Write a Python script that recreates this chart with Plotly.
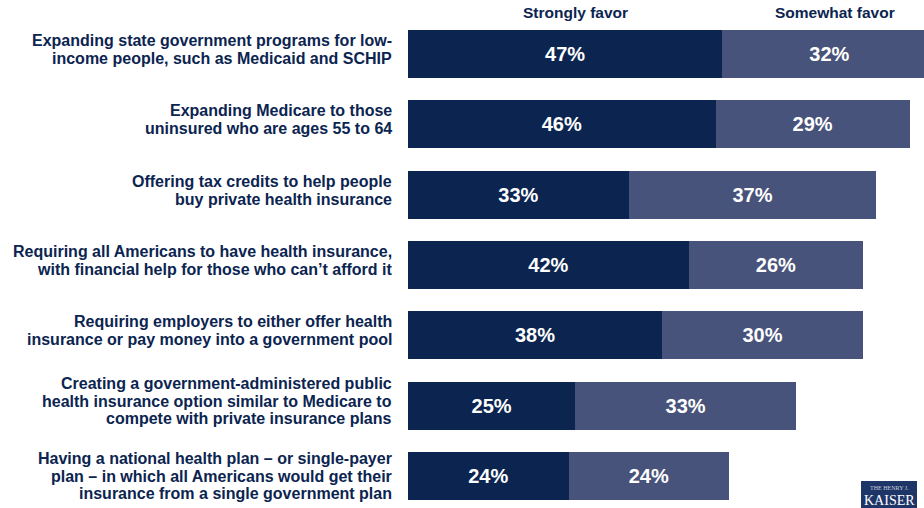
import plotly.graph_objects as go

questions = [
    ["Expanding state government programs for low-", "income people, such as Medicaid and SCHIP"],
    ["Expanding Medicare to those", "uninsured who are ages 55 to 64"],
    ["Offering tax credits to help people", "buy private health insurance"],
    ["Requiring all Americans to have health insurance,", "with financial help for those who can\u2019t afford it"],
    ["Requiring employers to either offer health", "insurance or pay money into a government pool"],
    ["Creating a government-administered public", "health insurance option similar to Medicare to",
     "compete with private insurance plans"],
    ["Having a national health plan \u2013 or single-payer", "plan \u2013 in which all Americans would get their",
     "insurance from a single government plan"],
]
strongly = [47, 46, 33, 42, 38, 25, 24]
somewhat = [32, 29, 37, 26, 30, 33, 24]
series_names = ["Strongly favor", "Somewhat favor"]

NAVY = "#0B2450"
SLATE = "#47537A"
FONT = "Liberation Sans, Arial, sans-serif"
PX_PER_PCT = 6.69

ypos = list(range(len(questions)))

fig = go.Figure()
for name, vals, col in [(series_names[0], strongly, NAVY), (series_names[1], somewhat, SLATE)]:
    fig.add_trace(go.Bar(
        y=ypos, x=vals, orientation="h", name=name,
        marker=dict(color=col, line=dict(width=0)),
        width=0.683,
        text=[f"<b>{v}%</b>" for v in vals],
        textposition="inside", insidetextanchor="middle",
        textfont=dict(family=FONT, size=20, color="white"),
        constraintext="none",
        hoverinfo="skip",
    ))

# category labels, one annotation per line so line spacing is tight
LINE_H = 17.8
for i, lines in enumerate(questions):
    n = len(lines)
    offset = 0 if i == len(questions) - 1 else 4.5
    for j, line in enumerate(lines):
        fig.add_annotation(
            xref="paper", yref="y", x=0, y=i, xanchor="right", yanchor="middle",
            xshift=-14, yshift=((n - 1) / 2 - j) * LINE_H + offset,
            text=f"<b>{line}</b>", showarrow=False, align="right",
            font=dict(family=FONT, size=16, color=NAVY),
        )

# column headers
for name, xc in [(series_names[0], 575), (series_names[1], 835)]:
    fig.add_annotation(
        xref="paper", yref="paper", x=(xc - 408) / 516, y=1,
        xanchor="center", yanchor="middle",
        yshift=-12, text=f"<b>{name}</b>", showarrow=False,
        font=dict(family=FONT, size=15.5, color=NAVY),
    )

# small logo box bottom right
fig.add_shape(type="rect", xref="paper", yref="paper",
              x0=(861 - 408) / 516, x1=(917 - 408) / 516, y0=0, y1=27 / 508,
              fillcolor="#1E3568", line=dict(width=0), layer="above")
fig.add_annotation(xref="paper", yref="paper", x=(889 - 408) / 516, y=20 / 508,
                   text="THE HENRY J.", showarrow=False, xanchor="center", yanchor="middle",
                   font=dict(family="Liberation Serif, serif", size=6, color="#C8CCDA"))
fig.add_annotation(xref="paper", yref="paper", x=(889 - 408) / 516, y=8 / 508,
                   text="KAISER", showarrow=False, xanchor="center", yanchor="middle",
                   font=dict(family="Liberation Serif, serif", size=14, color="white"))

fig.update_layout(
    barmode="stack",
    width=924, height=508,
    margin=dict(l=408, r=0, t=0, b=0),
    paper_bgcolor="white", plot_bgcolor="white",
    showlegend=False,
    hovermode=False,
    xaxis=dict(range=[0, 516 / PX_PER_PCT], visible=False, fixedrange=True),
    yaxis=dict(range=[6.455, -0.768], visible=False, fixedrange=True),
)

fig.write_html("out.html", config={"displayModeBar": False},
               post_script="document.body.style.margin='0';")
